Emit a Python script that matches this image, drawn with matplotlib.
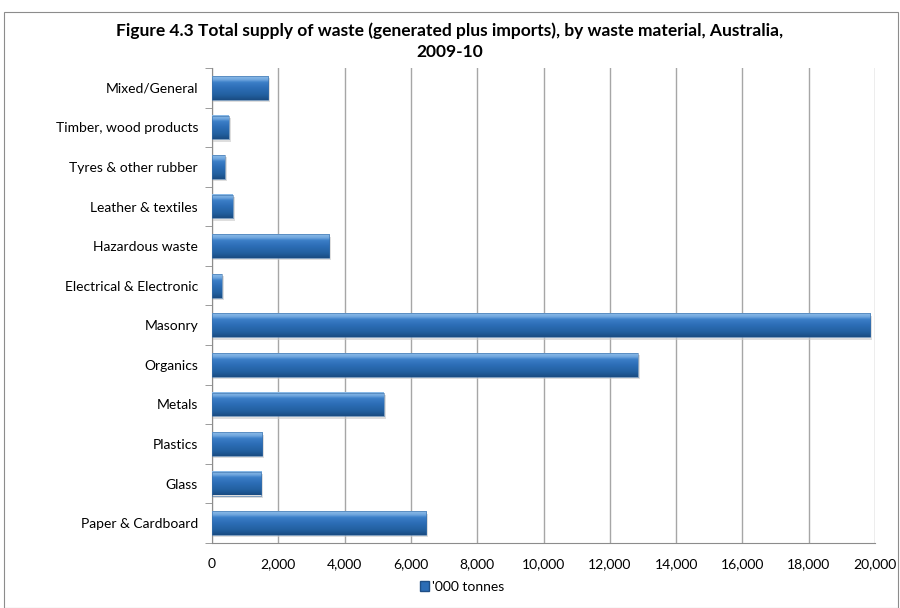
import matplotlib
matplotlib.use("Agg")
import matplotlib.pyplot as plt
import numpy as np
from matplotlib.colors import LinearSegmentedColormap
from matplotlib.patches import Rectangle

categories = ["Paper & Cardboard", "Glass", "Plastics", "Metals", "Organics", "Masonry",
              "Electrical & Electronic", "Hazardous waste", "Leather & textiles",
              "Tyres & other rubber", "Timber, wood products", "Mixed/General"]
values = [6460, 1480, 1510, 5180, 12840, 19850, 290, 3530, 620, 390, 510, 1690]
series_name = "'000 tonnes"
title = "Figure 4.3 Total supply of waste (generated plus imports), by waste material, Australia,\n2009-10"
xticks = list(range(0, 20001, 2000))

plt.rcParams['font.family'] = ['Lato', 'DejaVu Sans']

fig = plt.figure(figsize=(9, 6.08), dpi=100)
# outer border
fig.patches.append(Rectangle((4/900, 0), 894/900, 1 - 12/608, transform=fig.transFigure,
                             fill=False, edgecolor='#8c8c8c', linewidth=0.8))
ax = fig.add_axes([212/900, 1 - 543/608, 663/900, 475/608])

ax.set_xlim(0, 20000)
ax.set_ylim(-0.5, len(categories) - 0.5)

cmap = LinearSegmentedColormap.from_list(
    "bar", [(0.0, "#1a4c82"), (0.2, "#22609f"), (0.5, "#2c6db6"), (0.75, "#3c7fc8"),
            (0.85, "#6fa6de"), (1.0, "#8cbbe8")])
grad = np.linspace(0, 1, 64).reshape(-1, 1)
h = 0.6
for i, v in enumerate(values):
    # shadow
    ax.add_patch(Rectangle((0, i - h/2 - 0.06), v + 70, h, facecolor='#c8c8c8', alpha=0.6,
                           edgecolor='none', zorder=2))
    ax.imshow(grad, cmap=cmap, aspect='auto', extent=(0, v, i - h/2, i + h/2),
              origin='lower', zorder=3, interpolation='bicubic')
    ax.add_patch(Rectangle((0, i - h/2), v, h, facecolor='none', edgecolor='#3a6fa8',
                           linewidth=0.4, zorder=4))

ax.set_xlim(0, 20000)
ax.set_ylim(-0.5, len(categories) - 0.5)
ax.set_yticks(range(len(categories)))
ax.set_yticklabels(categories, fontsize=10)
ax.tick_params(axis='y', length=0, pad=10)
ax.set_yticks(np.arange(-0.5, len(categories), 1), minor=True)
ax.tick_params(axis='y', which='minor', length=5, color='#8c8c8c')
ax.set_xticks(xticks)
ax.set_xticklabels([f"{t:,}" for t in xticks], fontsize=10)
ax.tick_params(axis='x', length=0, pad=11)
ax.grid(axis='x', color='#a6a6a6', linewidth=1.0, zorder=0)
ax.set_axisbelow(True)
for s in ['top', 'right']:
    ax.spines[s].set_visible(False)
for s in ['left', 'bottom']:
    ax.spines[s].set_color('#8c8c8c')

fig.text(0.5, 1 - 41/608, title, ha='center', va='center', fontsize=12.5, fontweight='bold',
         linespacing=1.4)

# legend
legend_handle = Rectangle((0, 0), 1, 1, facecolor='#2c6db6', edgecolor='#1f4f86')
fig.legend([legend_handle], [series_name], loc='center', bbox_to_anchor=(462/900, 1 - 587/608),
           frameon=False, fontsize=10, handlelength=0.7, handleheight=0.7, handletextpad=0.2)

fig.savefig("out.png", dpi=100)
